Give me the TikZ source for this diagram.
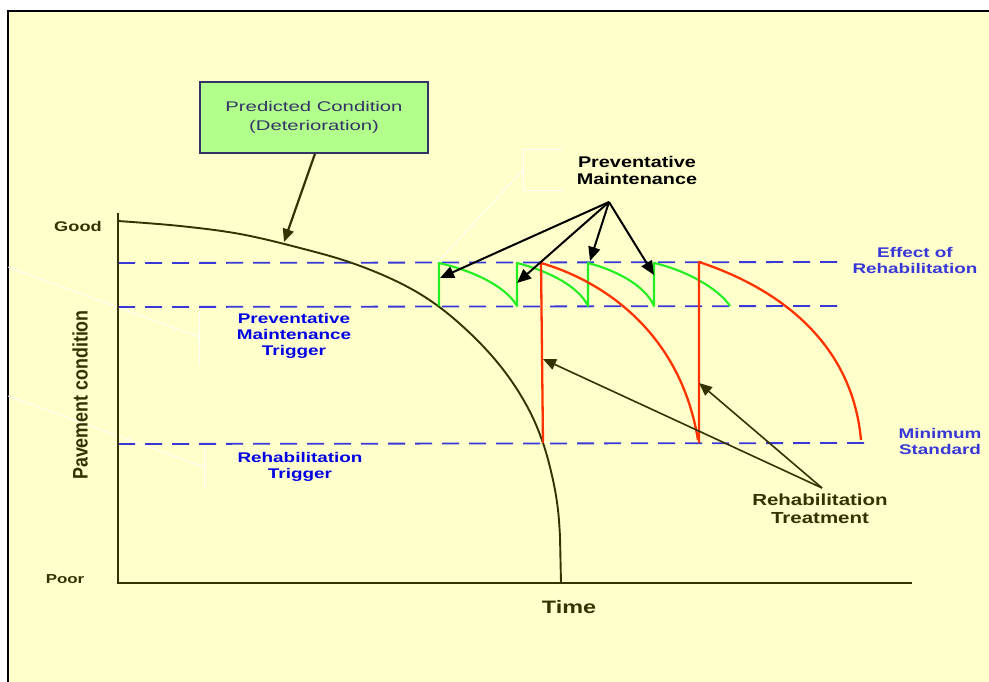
\documentclass[tikz,border=0pt]{standalone}
\usepackage{fontspec}
\setmainfont{Liberation Sans}
% wide sans faces for the labels
\newfontfamily\guidefont[FakeStretch=1.35]{Liberation Sans}
\newfontfamily\calloutfont[FakeStretch=1.28]{Liberation Sans}
\newfontfamily\boxfont[FakeStretch=1.45]{Liberation Sans}
\newfontfamily\axisfont[FakeStretch=1.3]{Liberation Sans}
\newfontfamily\ylabelfont[FakeStretch=0.85]{Liberation Sans}
\usetikzlibrary{arrows.meta}

\definecolor{paper}{HTML}{FFFFCC}
\definecolor{olive}{HTML}{333300}
\definecolor{guide}{HTML}{3838D8}
\definecolor{trig}{HTML}{0000E6}
\definecolor{pmgreen}{HTML}{22EE22}
\definecolor{rehabred}{HTML}{FF3300}
\definecolor{boxfill}{HTML}{B3FF8C}
\definecolor{boxedge}{HTML}{333366}

\begin{document}
\begin{tikzpicture}[x=1pt,y=-1pt,
  guideline/.style={draw=guide, line width=1.8pt, dash pattern=on 17pt off 10pt},
  pmline/.style={draw=pmgreen, line width=2.1pt, line join=round},
  rehabline/.style={draw=rehabred, line width=2.3pt, line join=round},
  leader/.style={draw=white, line width=0.8pt},
  bluelabel/.style={font=\guidefont\bfseries\fontsize{14}{16}\selectfont, align=center, inner sep=0pt},
  pmarrow/.style={draw=black, line width=2pt, -{Triangle[length=14pt,width=12pt]}},
  rharrow/.style={draw=olive, line width=1.6pt, -{Triangle[length=13pt,width=11pt]}},
  axislabel/.style={text=olive, font=\axisfont\bfseries, inner sep=0pt}
]
\useasboundingbox (0,0) rectangle (989,682);
\clip (0,0) rectangle (989,682);

% page and frame
\fill[white] (0,0) rectangle (989,682);
\fill[paper] (8,11) rectangle (1000,700);
\draw[black, line width=2pt] (8,700) -- (8,11) -- (1000,11);

% faint leader lines
\draw[leader] (8,267) -- (199,337);
\draw[leader] (199,310) -- (199,364);
\draw[leader] (8,396) -- (204,467);
\draw[leader] (204,449) -- (204,487);
\draw[leader] (562,149) -- (523,149) -- (523,190) -- (562,190);
\draw[leader] (523,170) -- (438,262);

% condition levels
\draw[guideline] (118,263) -- (845,262);
\draw[guideline] (118,307) -- (845,306);
\draw[guideline] (118,444) -- (870,443);

% axes
\draw[olive, line width=1.4pt] (118,213) -- (118,583) -- (912,583);

% predicted deterioration
\draw[olive, line width=1.9pt] plot[smooth, tension=0.6] coordinates {
  (118,221) (180,226) (240,234) (300,248) (352,263) (400,283) (438,306)
  (475,338) (505,372) (528,408) (543,443) (553,480) (558,510) (560,537)}
  -- (561,583);

% preventative maintenance cycles
\draw[pmline] (439,306) -- (439,263)
  .. controls (470,270) and (505,285) .. (517,306) -- (517,263)
  .. controls (545,270) and (578,285) .. (588,306) -- (588,263)
  .. controls (615,270) and (645,285) .. (654,306) -- (654,263)
  .. controls (685,270) and (718,288) .. (730,306);

% rehabilitation cycles
\draw[rehabline] (543,443) -- (541,263)
  .. controls (600,280) and (680,330) .. (698,440);
\draw[rehabline] (699,443) -- (699,262)
  .. controls (775,287) and (852,340) .. (861,440);

% arrow targets on the curves
\coordinate (det) at (284,242);
\coordinate (pm1) at (440,278);
\coordinate (pm2) at (517,283);
\coordinate (pm3) at (590,261);
\coordinate (pm4) at (654,275);
\coordinate (rh1) at (543,359);
\coordinate (rh2) at (699,383);
\coordinate (pmhub) at (609,202);
\coordinate (rhhub) at (822,488);

% callout box
\node[draw=boxedge, line width=1.3pt, fill=boxfill, minimum width=228pt, minimum height=71pt,
      text=boxedge, font=\boxfont\fontsize{14}{19}\selectfont, align=center]
  (pred) at (314,117.5) {Predicted Condition\\(Deterioration)};
\draw[draw=olive, line width=2.2pt, -{Triangle[length=13pt,width=11pt]}]
  (pred.south -| 315,0) -- (det);

% labels
\node[font=\calloutfont\bfseries\fontsize{15.5}{17}\selectfont, align=center, inner sep=0pt]
  (pmlabel) at (637,170) {Preventative\\Maintenance};
\node[text=olive, font=\calloutfont\bfseries\fontsize{16}{18}\selectfont, align=center, inner sep=0pt]
  (rhlabel) at (820,509) {Rehabilitation\\Treatment};
\node[bluelabel, text=guide] (effect) at (915,260) {Effect of\\Rehabilitation};
\node[bluelabel, text=guide] (minstd) at (940,441) {Minimum\\Standard};
\node[bluelabel, text=trig] (pmtrig) at (294,336) {Preventative\\Maintenance\\Trigger};
\node[bluelabel, text=trig] (rhtrig) at (300,467) {Rehabilitation\\Trigger};

\node[axislabel, font=\axisfont\bfseries\fontsize{14}{15}\selectfont] (good) at (78,226) {Good};
\node[axislabel, font=\axisfont\bfseries\fontsize{13}{15}\selectfont] (poor) at (65,579) {Poor};
\node[axislabel, font=\axisfont\bfseries\fontsize{18}{20}\selectfont] (time) at (569,607) {Time};
\node[text=olive, font=\ylabelfont\bfseries\fontsize{21}{24}\selectfont, rotate=90, inner sep=0pt]
  (ylab) at (80,395) {Pavement condition};

% callout arrows
\draw[pmarrow] (pmhub) -- (pm1);
\draw[pmarrow] (pmhub) -- (pm2);
\draw[pmarrow] (pmhub) -- (pm3);
\draw[pmarrow] (pmhub) -- (pm4);
\draw[rharrow] (rhhub) -- (rh1);
\draw[rharrow] (rhhub) -- (rh2);
\end{tikzpicture}
\end{document}
